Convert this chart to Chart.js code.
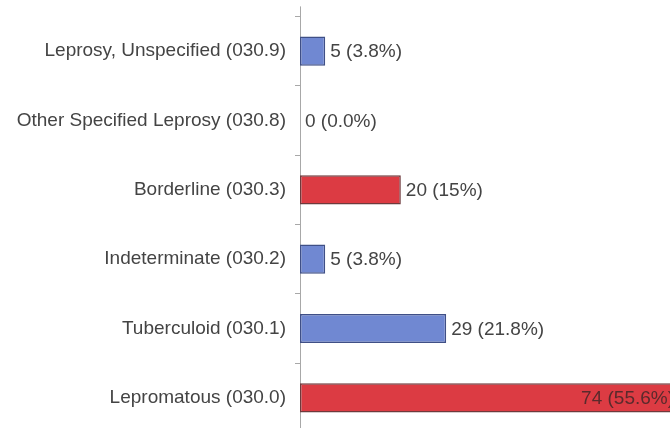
<!DOCTYPE html>
<html>
<head>
<meta charset="utf-8">
<script src="https://cdn.jsdelivr.net/npm/chart.js@4/dist/chart.umd.min.js"></script>
<style>
  html, body { margin: 0; padding: 0; background: #fff; overflow: hidden; }
  #wrap { position: relative; width: 670px; height: 457px; margin-top: -4px; }
</style>
</head>
<body>
<div id="wrap"><canvas id="leprosyChart"></canvas></div>
<script>
// leprosy cases by ICD-9 code
var categories = [
	"Leprosy, Unspecified (030.9)",
	"Other Specified Leprosy (030.8)",
	"Borderline (030.3)",
	"Indeterminate (030.2)",
	"Tuberculoid (030.1)",
	"Lepromatous (030.0)"
];
var cases = [5, 0, 20, 5, 29, 74];
var percents = ["3.8%", "0.0%", "15%", "3.8%", "21.8%", "55.6%"];
var highlight = [false, false, true, false, false, true];

var BLUE = "#7088d2", BLUE_EDGE = "#3f4f86";
var RED = "#dc3b43", RED_EDGE = "#6e3a3c";

// value labels next to each bar, pushed inside when the bar runs off the edge
var valueLabels = {
	id: "valueLabels",
	afterDatasetsDraw: function(chart) {
		var ctx = chart.ctx;
		var meta = chart.getDatasetMeta(0);
		var area = chart.chartArea;
		ctx.save();
		ctx.font = "19px 'Liberation Sans', Arial, sans-serif";
		ctx.textBaseline = "middle";
		for (var i = 0; i < meta.data.length; i++) {
			var bar = meta.data[i];
			var txt = cases[i] + " (" + percents[i] + ")";
			if (bar.x > area.right) {
				ctx.textAlign = "right";
				ctx.fillStyle = "#5a2a2c";
				ctx.fillText(txt, bar.x + 1, bar.y + 1);
			} else {
				ctx.textAlign = "left";
				ctx.fillStyle = "#444";
				ctx.fillText(txt, bar.x + 5, bar.y + 1);
			}
		}
		ctx.restore();
	}
};

// axis line runs a little above the first tick
var axisTop = {
	id: "axisTop",
	afterDraw: function(chart) {
		var c = chart.ctx, x = chart.chartArea.left;
		c.save();
		c.strokeStyle = "#a8a8a8";
		c.lineWidth = 1;
		c.beginPath();
		c.moveTo(x + 0.5, chart.chartArea.top - 10);
		c.lineTo(x + 0.5, chart.chartArea.top);
		c.stroke();
		c.restore();
	}
};

var ctx = document.getElementById("leprosyChart").getContext("2d");
var chart = new Chart(ctx, {
	type: "bar",
	data: {
		labels: categories,
		datasets: [{
			data: cases,
			backgroundColor: highlight.map(function(h) { return h ? RED : BLUE; }),
			borderColor: highlight.map(function(h) { return h ? RED_EDGE : BLUE_EDGE; }),
			borderWidth: 1.5,
			borderSkipped: false,
			barPercentage: 1,
			categoryPercentage: 0.42
		}]
	},
	options: {
		indexAxis: "y",
		responsive: true,
		maintainAspectRatio: false,
		animation: false,
		layout: { padding: { top: 12, right: 0, bottom: 0, left: 0 } },
		plugins: {
			legend: { display: false },
			tooltip: { enabled: false }
		},
		scales: {
			x: {
				display: false,
				min: 0,
				max: 73.4
			},
			y: {
				grid: {
					offset: true,
					drawOnChartArea: false,
					tickLength: 5,
					color: "#a8a8a8"
				},
				border: { color: "#a8a8a8", width: 1 },
				ticks: {
					color: "#444",
					padding: 9,
					font: { family: "'Liberation Sans', Arial, sans-serif", size: 19 }
				},
				afterFit: function(scale) { scale.width = 300; }
			}
		}
	},
	plugins: [valueLabels, axisTop]
});
</script>
</body>
</html>
